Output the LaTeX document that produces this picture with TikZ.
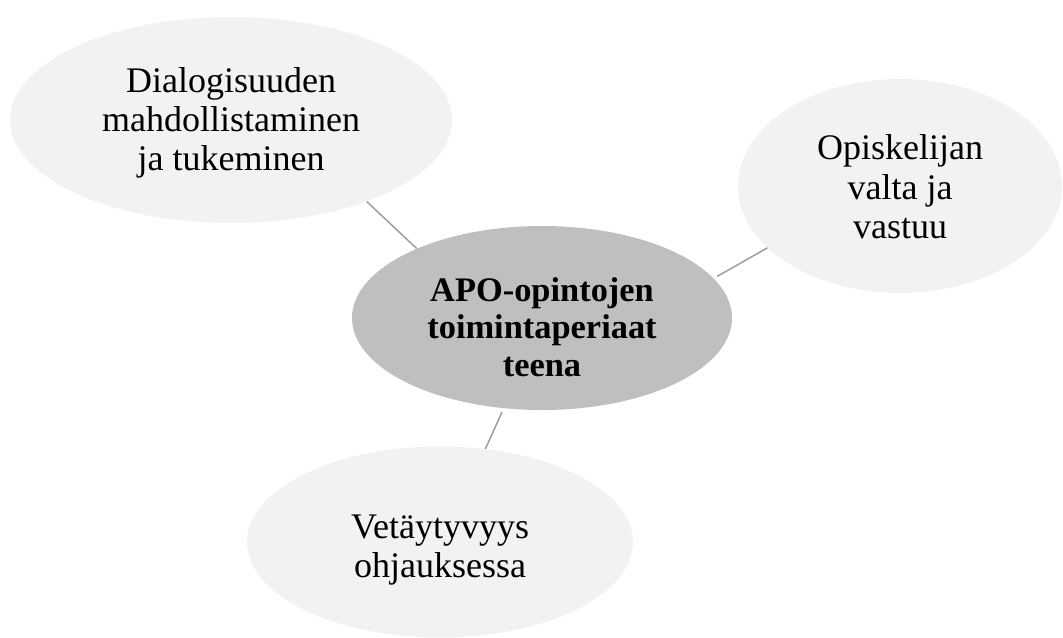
\documentclass[tikz,border=0pt]{standalone}
\usepackage{fontspec}
\setmainfont{Liberation Serif}
\usetikzlibrary{shapes.geometric}
\definecolor{lightfill}{HTML}{F2F2F2}
\definecolor{hubfill}{HTML}{BFBFBF}
\definecolor{linkgray}{HTML}{9C9C9C}
\tikzset{
  bubble/.style={ellipse, fill=lightfill, inner sep=0pt},
  hub/.style={ellipse, fill=hubfill, inner sep=0pt},
  caption/.style={inner sep=0pt, align=center,
    font=\fontsize{27}{29.5}\selectfont},
  hubcaption/.style={inner sep=0pt, align=center,
    font=\fontsize{25.8}{28}\selectfont\bfseries},
  link/.style={draw=linkgray, line width=1.1pt}
}
\begin{document}
\begin{tikzpicture}[x=0.75pt, y=-0.75pt]
\useasboundingbox (0,0) rectangle (1063,638);
% outer ideas
\node[bubble, minimum width=331.5pt, minimum height=154.5pt] (dia) at (231,120) {};
\node[caption] (diatext) at (231,123)
  {Dialogisuuden\\mahdollistaminen\\ja tukeminen};
\node[bubble, minimum width=243pt, minimum height=160.5pt] (opi) at (900,186) {};
\node[caption] (opitext) at (900,187)
  {Opiskelijan\\valta ja\\vastuu};
\node[bubble, minimum width=289.5pt, minimum height=143.25pt] (vet) at (440,542) {};
\node[caption] (vettext) at (440,550)
  {Vetäytyvyys\\ohjauksessa};
% central idea
\node[hub, minimum width=285pt, minimum height=138pt] (apo) at (542,318) {};
\node[hubcaption] (apotext) at (542,327)
  {APO-opintojen\\toimintaperiaat\\teena};
% connectors
\draw[link] (apo.151.5) -- (dia.-31);
\draw[link, shorten <=3pt] (apo.13.8) -- (opi.205.9);
\draw[link, shorten <=3pt] (apo.247.5) -- (vet.64.5);
\end{tikzpicture}
\end{document}
